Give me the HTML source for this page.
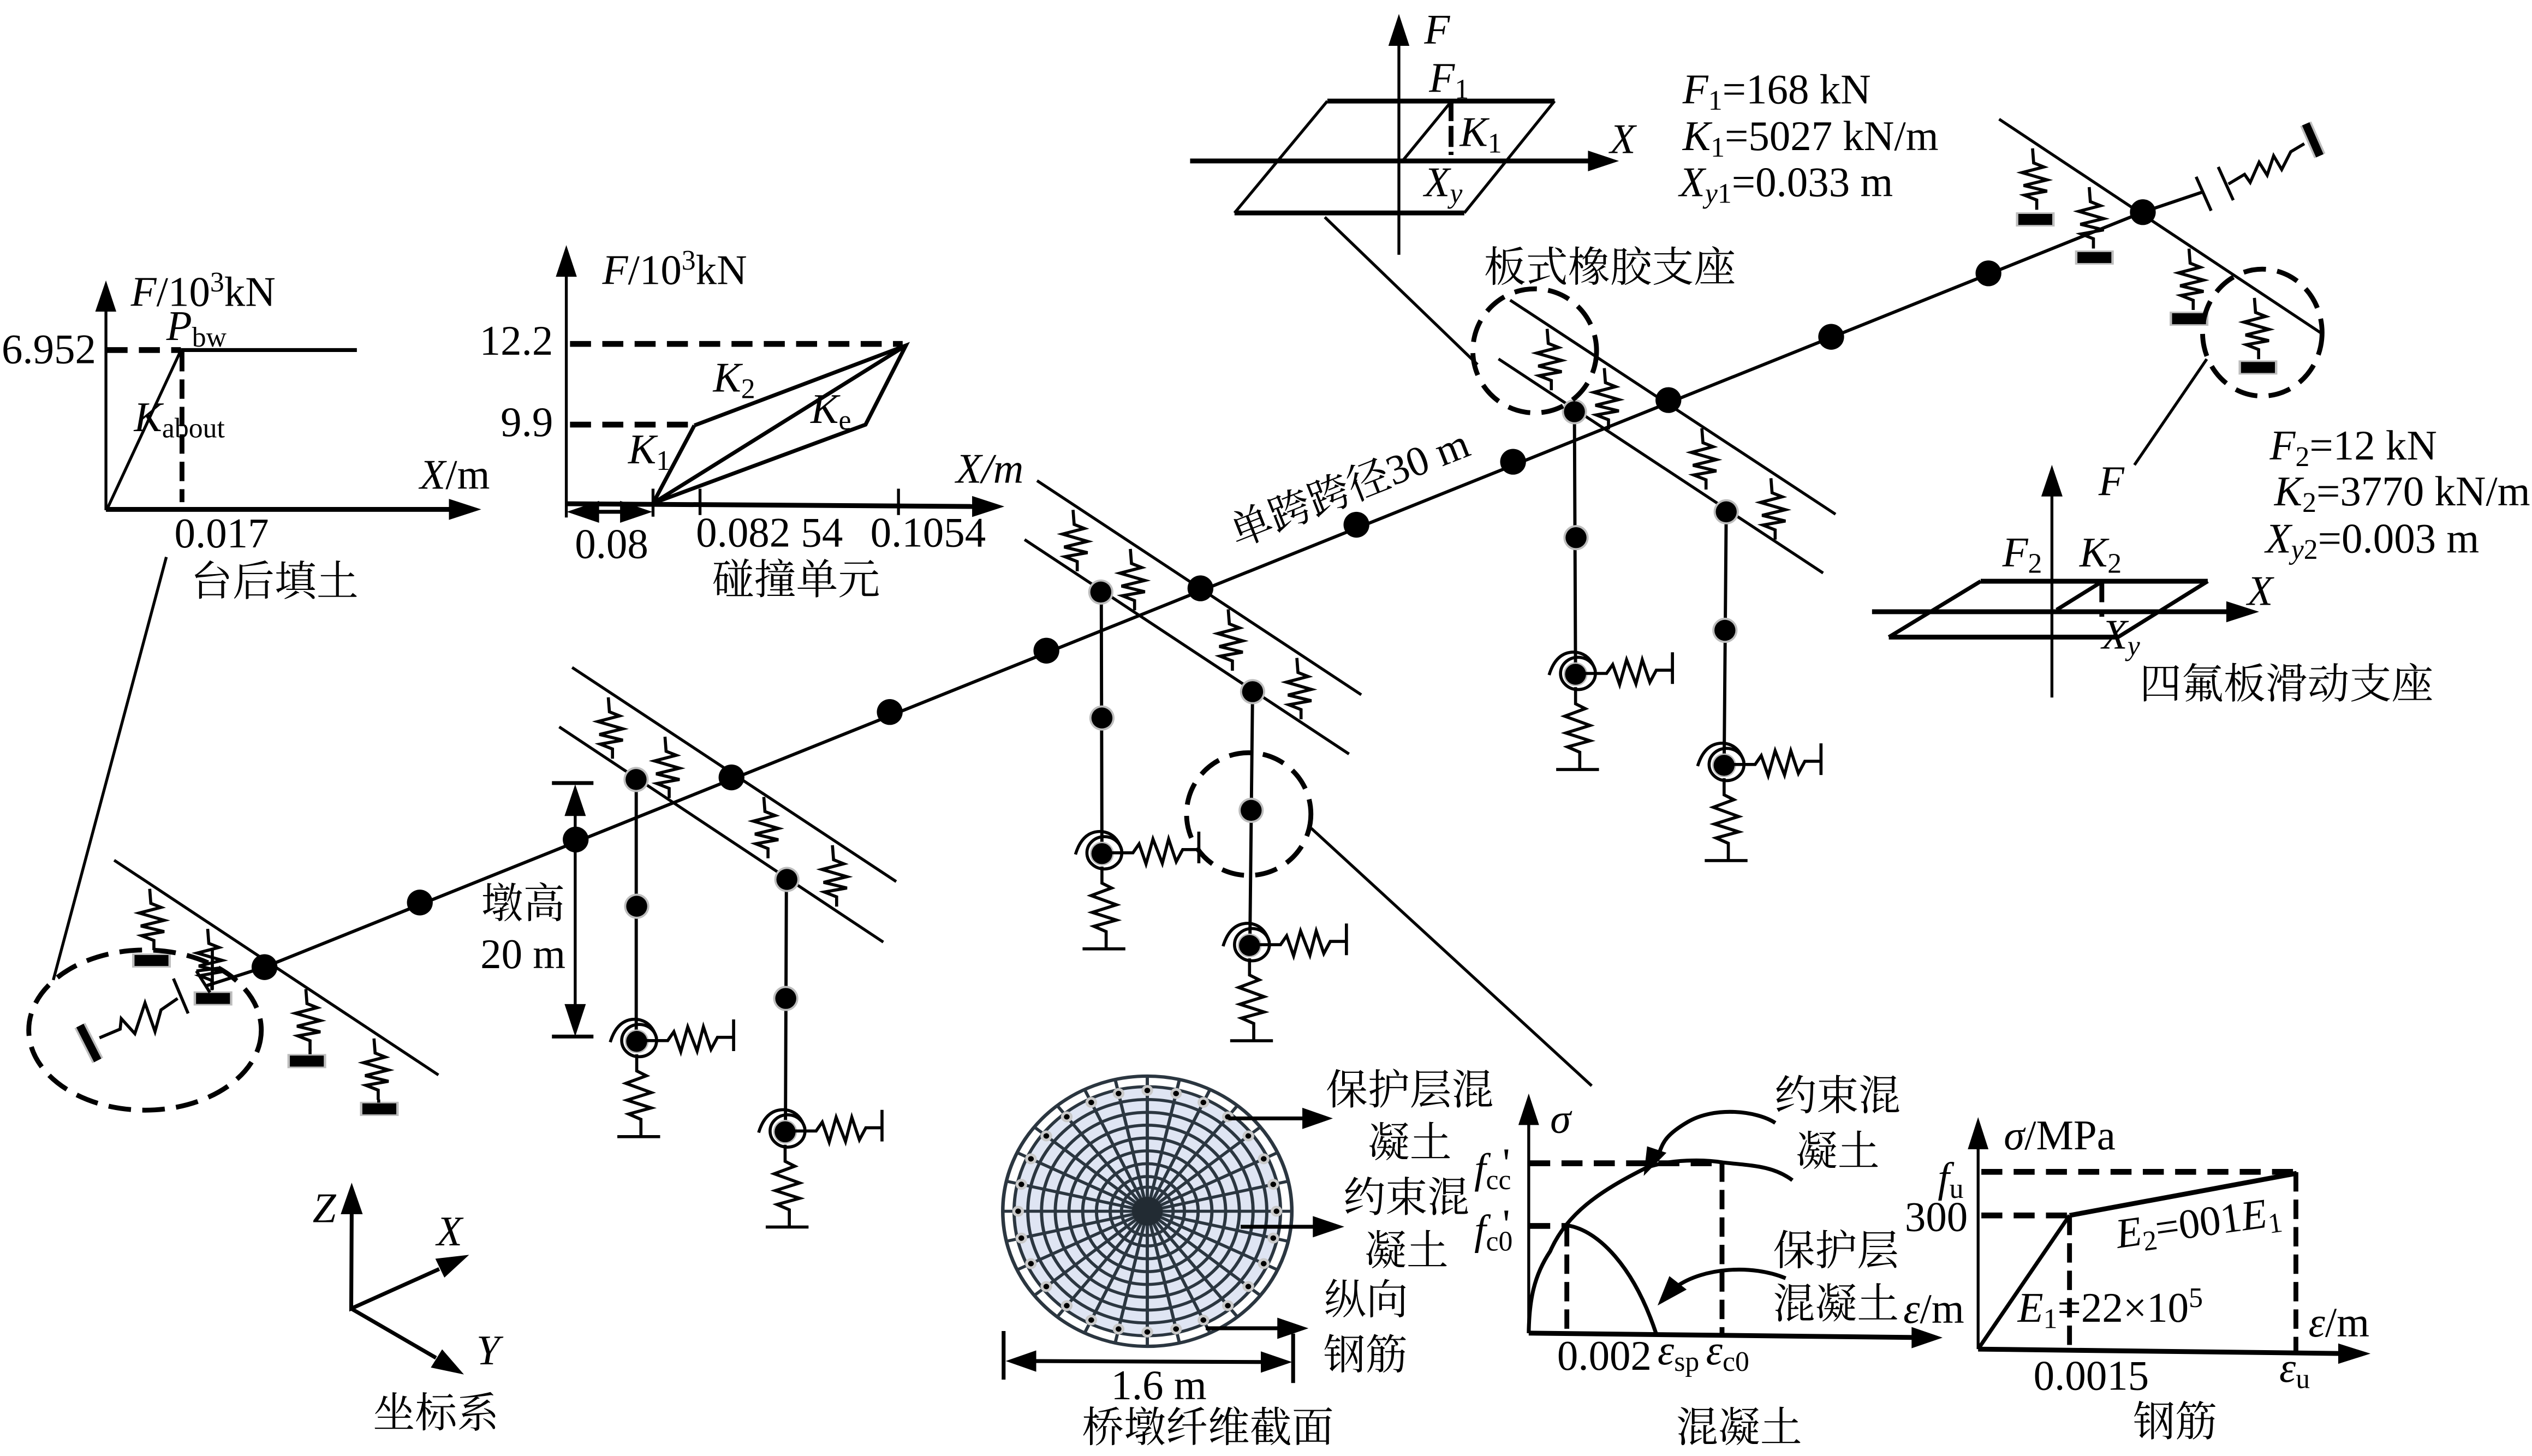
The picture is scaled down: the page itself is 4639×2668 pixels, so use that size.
<!DOCTYPE html>
<html lang="zh">
<head>
<meta charset="utf-8">
<title>Bridge model diagram</title>
<style>
html,body{margin:0;padding:0;background:#fff}
svg{display:block}
text{font-family:"Liberation Serif","Noto Serif CJK SC",serif;font-size:26px;fill:#000}
.i{font-style:italic}
.s{font-size:17.5px}
.t{fill:none;stroke:#000;stroke-width:1.8}
.m{fill:none;stroke:#000;stroke-width:2.4}
.a{fill:none;stroke:#000;stroke-width:3}
.d{fill:none;stroke:#000;stroke-width:3.6;stroke-dasharray:13 7}
.v{fill:none;stroke:#000;stroke-width:3;stroke-dasharray:12 5}
.c{fill:none;stroke:#000;stroke-width:3;stroke-dasharray:14 7}
.sp{fill:none;stroke:#000;stroke-width:1.9}
.g{fill:none;stroke:#2b3640;stroke-width:2}
</style>
</head>
<body>
<svg xmlns="http://www.w3.org/2000/svg" width="4639" height="2668" viewBox="0 0 1568 901.8">
<defs>
  <path id="S" class="sp" d="M0 0L.7 9L7 11.5L-6.5 15L9 19.5L-5.5 23L9 26.5L-5 29L2.6 32L2.6 38"/>
  <g id="P"><rect x="-12" y="-4.4" width="24" height="8.8" fill="#bdbdbd"/><rect x="-10.5" y="-3.4" width="21" height="6.8" fill="#000"/></g>
  <g id="N"><circle r="7.8" fill="#bdbdbd"/><circle r="6.5" fill="#000"/></g>
  <g id="B">
    <path class="sp" d="M-16.4 .5Q-12 -14 -.6 -13.7Q9 -13 12.3 -2"/>
    <ellipse cx="1.5" cy="-.5" rx="10.8" ry="10" class="sp"/>
    <circle r="7.4" fill="#bdbdbd"/><circle r="6.5" fill="#000"/>
    <path class="sp" d="M6 -.5L19.2 -.5L23 -6L27.3 6.4L31.6 -9L37.4 6L41.3 -9L46 5L50 -2.5L60 -2.5M60 -13.6L60 6"/>
    <path class="sp" d="M0 8L0 18.3L6 21.3L-6.7 26L9 31.7L-6 36.4L9 41.2L-5 45L2.6 48.3L2.6 59M-12 59L14.5 59"/>
  </g>
  <g id="spk">
    <line x1="0" y1="0" x2="0" y2="-89.5"/>
    <line x1="0" y1="0" x2="19.9" y2="-87.3"/>
    <line x1="0" y1="0" x2="38.8" y2="-80.6"/>
    <line x1="0" y1="0" x2="55.8" y2="-70"/>
    <line x1="0" y1="0" x2="70" y2="-55.8"/>
    <line x1="0" y1="0" x2="80.6" y2="-38.8"/>
    <line x1="0" y1="0" x2="87.3" y2="-19.9"/>
  </g>
  <g id="bars">
    <g id="bar"><circle cx="0" cy="-80" r="3.6" fill="#c9c9c9"/><circle cx="0" cy="-80" r="1.8" fill="#000"/></g>
    <use href="#bar" transform="rotate(12.857)"/>
    <use href="#bar" transform="rotate(25.714)"/>
    <use href="#bar" transform="rotate(38.571)"/>
    <use href="#bar" transform="rotate(51.429)"/>
    <use href="#bar" transform="rotate(64.286)"/>
    <use href="#bar" transform="rotate(77.143)"/>
  </g>
</defs>
<rect width="1568" height="901.8" fill="#fff"/>

<!-- Backfill plot -->
<path class="t" d="M65.6 316L65.6 190"/><polygon points="65.6,173.7 59,193 72,193"/>
<path class="a" d="M65.6 315.5L280 315.5"/><polygon points="298,315.5 278,309 278,322"/>
<path class="d" d="M66 216.8L112 216.8"/><path class="m" d="M112 216.8L221 216.8"/>
<path class="v" d="M112.7 218L112.7 311"/><path class="t" d="M66 316L112 217"/>
<text x="81" y="189.5"><tspan class="i">F</tspan>/10<tspan class="s" dy="-9">3</tspan><tspan dy="9">kN</tspan></text>
<text x="1" y="225">6.952</text>
<text x="103" y="210.6"><tspan class="i">P</tspan><tspan class="s" dy="4">bw</tspan></text>
<text x="83" y="267"><tspan class="i">K</tspan><tspan class="s" dy="4">about</tspan></text>
<text x="260" y="302.7"><tspan class="i">X</tspan>/m</text>
<text x="108" y="339">0.017</text>
<text x="118" y="369">台后填土</text>
<path class="t" d="M103 345L33 607"/>

<!-- Collision plot -->
<path class="t" d="M350.7 320.5L350.7 168"/><polygon points="350.7,151.8 344.2,171.4 357.2,171.4"/>
<path class="a" d="M350.7 312L604 313.7"/><polygon points="622,313.7 602,307.2 602,320.2"/>
<path class="d" d="M353 213L559 213"/><path class="d" d="M353 263L428 263"/>
<path class="m" d="M430 263.5L561 214L536 263L404.4 311.7L561 214M404.4 311.7L430 263.5"/>
<path class="t" d="M404.4 302.7L404.4 320M433.5 302.7L433.5 319M556.4 302.7L556.4 319"/>
<path class="m" d="M365 317L390 317"/>
<polygon points="351,317 371,310.2 371,323.8"/><polygon points="404,317 384,310.2 384,323.8"/>
<text x="373" y="176"><tspan class="i">F</tspan>/10<tspan class="s" dy="-9">3</tspan><tspan dy="9">kN</tspan></text>
<text x="297" y="219.7">12.2</text>
<text x="310" y="270">9.9</text>
<text x="441.6" y="242.6"><tspan class="i">K</tspan><tspan class="s" dy="4">2</tspan></text>
<text x="502" y="262"><tspan class="i">K</tspan><tspan class="s" dy="4">e</tspan></text>
<text x="389" y="287"><tspan class="i">K</tspan><tspan class="s" dy="4">1</tspan></text>
<text x="592" y="299" class="i">X/m</text>
<text x="356" y="345.7">0.08</text>
<text x="431" y="338.6">0.082 54</text>
<text x="539" y="338.6">0.1054</text>
<text x="441" y="368">碰撞单元</text>

<!-- Top bearing plot -->
<path class="t" d="M866.3 157.8L866.3 25"/><polygon points="866.3,8.6 859.8,28.4 872.8,28.4"/>
<path class="a" d="M737 99.7L985 99.7"/><polygon points="1002.6,99.7 983.4,93.3 983.4,106.1"/>
<path class="a" d="M822 62.6L962.7 62.6M764.5 131.9L906.8 131.9"/>
<path class="t" d="M822 62.6L764.5 131.9M962.7 62.6L906.8 131.9M868.5 99.7L898.6 63"/>
<path class="v" d="M898.6 62L898.6 96" style="stroke-dasharray:13 3"/>
<path class="t" d="M820.4 134.5L915 225.8"/>
<text x="882" y="27" class="i">F</text>
<text x="885" y="57"><tspan class="i">F</tspan><tspan class="s" dy="4">1</tspan></text>
<text x="904" y="90.5"><tspan class="i">K</tspan><tspan class="s" dy="4">1</tspan></text>
<text x="997" y="94.8" class="i">X</text>
<text x="882" y="121.5"><tspan class="i">X</tspan><tspan class="s i" dy="4">y</tspan></text>
<text x="1042" y="64"><tspan class="i">F</tspan><tspan class="s" dy="4">1</tspan><tspan dy="-4">=168 kN</tspan></text>
<text x="1042" y="93"><tspan class="i">K</tspan><tspan class="s" dy="4">1</tspan><tspan dy="-4">=5027 kN/m</tspan></text>
<text x="1040" y="121.5"><tspan class="i">X</tspan><tspan class="s i" dy="4">y</tspan><tspan class="s" >1</tspan><tspan dy="-4">=0.033 m</tspan></text>
<text x="919" y="174.5">板式橡胶支座</text>

<!-- Bottom bearing plot -->
<path class="t" d="M1270.7 432L1270.7 305"/><polygon points="1270.7,287.9 1264.1,307.5 1277.3,307.5"/>
<path class="a" d="M1159.3 378.9L1380 378.9"/><polygon points="1399,378.9 1378.7,372.4 1378.7,385.4"/>
<path class="a" d="M1226.6 360L1367.2 360M1169.7 394.6L1311.7 394.6"/>
<path class="m" d="M1226.6 360L1169.7 394.6M1367.2 360L1311.7 394.6M1273.6 377.7L1301.6 360.3"/>
<path class="v" d="M1301.6 359L1301.6 382" style="stroke-dasharray:14 5"/>
<path class="t" d="M1366.6 222.4L1321.8 288"/>
<text x="1299.6" y="306.8" class="i">F</text>
<text x="1240" y="350.8"><tspan class="i">F</tspan><tspan class="s" dy="4">2</tspan></text>
<text x="1287.8" y="350.8"><tspan class="i">K</tspan><tspan class="s" dy="4">2</tspan></text>
<text x="1391.7" y="374.7" class="i">X</text>
<text x="1301.6" y="401.8"><tspan class="i">X</tspan><tspan class="s i" dy="4">y</tspan></text>
<text x="1405.6" y="284.6"><tspan class="i">F</tspan><tspan class="s" dy="4">2</tspan><tspan dy="-4">=12 kN</tspan></text>
<text x="1408.4" y="313"><tspan class="i">K</tspan><tspan class="s" dy="4">2</tspan><tspan dy="-4">=3770 kN/m</tspan></text>
<text x="1403" y="342.2"><tspan class="i">X</tspan><tspan class="s i" dy="4">y</tspan><tspan class="s">2</tspan><tspan dy="-4">=0.003 m</tspan></text>
<text x="1325" y="432.5">四氟板滑动支座</text>

<!-- Deck and transverse beams -->
<path class="m" d="M128.2 610.4L163.8 599L1327 131.4L1363.8 119" style="stroke-width:2"/>
<path class="t" d="M70.7 532.8L271.5 665.8"/>
<path class="t" d="M354.3 413.4L555 546M346.3 450.2L547 583.5"/>
<path class="t" d="M642.2 297.7L843 430.3M634.5 334.2L835.4 467"/>
<path class="t" d="M935.2 185.9L1136.7 318.5M928 222.3L1129 354.9"/>
<path class="t" d="M1238 73.8L1437.7 206.5"/>
<g fill="#000">
<circle cx="163.8" cy="599" r="8"/><circle cx="260" cy="559" r="8"/><circle cx="356.5" cy="520" r="8"/><circle cx="453" cy="481.5" r="8"/><circle cx="551" cy="441" r="8"/><circle cx="648" cy="403" r="8"/><circle cx="743.4" cy="364.4" r="8"/><circle cx="840" cy="325" r="8"/><circle cx="937" cy="286" r="8"/><circle cx="1033.2" cy="247.8" r="8"/><circle cx="1134" cy="208.6" r="8"/><circle cx="1231.4" cy="169.3" r="8"/><circle cx="1327" cy="131.4" r="8"/>
</g>

<!-- Columns -->
<path class="t" d="M394 483L394 644M487 545L486.4 701M682 367L682.4 529M775.7 428L774 586M975 255L975.7 418M1069 317L1067.7 474" style="stroke-width:2"/>
<use href="#N" x="393.9" y="482.8"/><use href="#N" x="394.3" y="561.3"/><use href="#B" x="394.3" y="645"/>
<use href="#N" x="487.3" y="544.7"/><use href="#N" x="486.6" y="618.4"/><use href="#B" x="486.2" y="701"/>
<use href="#N" x="681.7" y="366.7"/><use href="#N" x="682.4" y="444.7"/><use href="#B" x="682.4" y="528.7"/>
<use href="#N" x="775.7" y="428.4"/><use href="#N" x="774.8" y="501.9"/><use href="#B" x="773.8" y="585.6"/>
<use href="#N" x="975" y="255"/><use href="#N" x="976" y="333"/><use href="#B" x="975.7" y="417.6"/>
<use href="#N" x="1069" y="317"/><use href="#N" x="1068.2" y="390.4"/><use href="#B" x="1067.7" y="474"/>

<!-- Deck springs -->
<use href="#S" x="376.7" y="431.9"/><use href="#S" x="411.8" y="456.3"/><use href="#S" x="473" y="493.6"/><use href="#S" x="515.5" y="523.5"/>
<use href="#S" x="664.5" y="315.8"/><use href="#S" x="700" y="340"/><use href="#S" x="760.6" y="377.4"/><use href="#S" x="803.1" y="407.5"/>
<use href="#S" x="958.1" y="203.7"/><use href="#S" x="993.5" y="228"/><use href="#S" x="1053.9" y="265.2"/><use href="#S" x="1096.7" y="296.2"/>

<!-- Left abutment -->
<use href="#S" x="92.7" y="550.5"/><use href="#P" x="93.8" y="594.9"/>
<use href="#S" x="128.6" y="575.3"/><use href="#P" x="131.9" y="618.4"/>
<use href="#S" x="189.4" y="612.6"/><use href="#P" x="190" y="657.2"/>
<use href="#S" x="231.6" y="643.2"/><use href="#P" x="234.9" y="686.8"/>
<path d="M131.5 588.5L131.5 613" class="sp"/><path d="M192 650L192 653M234.5 681L234.5 683" class="sp"/>
<ellipse cx="89.8" cy="638" rx="72" ry="49.6" class="c"/>
<line x1="49.5" y1="635.2" x2="60.5" y2="656.8" stroke="#bdbdbd" stroke-width="7.5"/>
<line x1="49.5" y1="635.2" x2="60.5" y2="656.8" stroke="#000" stroke-width="5"/>
<path class="sp" d="M61.6 642.8L74.4 637.4L75.1 630.9L83.5 640.2L89.8 621.2L96 638.9L99.7 625.5L110 618.4M107.4 606.1L116.5 627.7M121.6 601.4L130 614.7M121.6 601.4L135.6 599.6"/>

<!-- Right abutment -->
<use href="#S" x="1258.7" y="91.9"/><use href="#P" x="1260.4" y="135.9"/>
<use href="#S" x="1293.8" y="115.9"/><use href="#P" x="1297" y="159.5"/>
<use href="#S" x="1355.6" y="154"/><use href="#P" x="1355.6" y="197.4"/>
<use href="#S" x="1396.1" y="184.5"/><use href="#P" x="1398.3" y="227.6"/>
<path class="sp" d="M1360 109.5L1369.3 130.5M1373.7 103.4L1383 124M1380 114L1390 108L1393.5 113L1399 100.5L1404 108.5L1408 96.5L1413 105L1418.6 94L1427 89"/>
<line x1="1427.9" y1="76.7" x2="1436.6" y2="96.5" stroke="#bdbdbd" stroke-width="7.5"/>
<line x1="1427.9" y1="76.7" x2="1436.6" y2="96.5" stroke="#000" stroke-width="5"/>

<!-- Dashed circles -->
<ellipse cx="773.3" cy="504.2" rx="38.5" ry="38" class="c"/>
<ellipse cx="950.4" cy="217.3" rx="38.3" ry="38.4" class="c"/>
<ellipse cx="1401" cy="206" rx="37" ry="39.3" class="c"/>
<path class="t" d="M812 513L985.7 672.5"/>

<!-- Pier height dimension -->
<path class="m" d="M341.8 485L367.5 485M341.8 642L367.5 642"/>
<path class="t" d="M356.2 500L356.2 628"/>
<polygon points="356.2,485.8 349.6,505.4 362.8,505.4"/>
<polygon points="356.2,642 349.6,621.9 362.8,621.9"/>
<text x="298" y="568.5">墩高</text>
<text x="297.5" y="599.6">20 m</text>

<!-- Span label -->
<text transform="translate(766 339) rotate(-21.5)">单跨跨径30 m</text>

<!-- Coordinate system -->
<path class="m" d="M217.8 750L217.5 810.5L272 786M217.5 810.5L270 841"/>
<polygon points="217.8,732.5 211,752 224.6,752"/>
<polygon points="290.5,777.2 269.6,779.6 275.2,791.3"/>
<polygon points="287.3,851.3 273.8,835.7 266.8,847"/>
<text x="193.6" y="757" class="i">Z</text>
<text x="270.4" y="771.4" class="i">X</text>
<text x="295" y="845" class="i">Y</text>
<text x="231" y="884">坐标系</text>

<!-- Fibre section -->
<g transform="translate(710.5 750.2) scale(1 .935)">
  <circle r="89.5" fill="#fff" stroke="#2b3640" stroke-width="2.2"/>
  <circle r="82.5" fill="#dfe5f3" stroke="#2b3640" stroke-width="2"/>
  <g class="g">
    <use href="#spk"/><use href="#spk" transform="rotate(90)"/><use href="#spk" transform="rotate(180)"/><use href="#spk" transform="rotate(270)"/>
    <circle r="74"/><circle r="65.5"/><circle r="57"/><circle r="48.5"/><circle r="40"/><circle r="31.5"/><circle r="23"/><circle r="16"/>
  </g>
  <circle r="9.5" fill="#222b33"/>
  <use href="#bars"/><use href="#bars" transform="rotate(90)"/><use href="#bars" transform="rotate(180)"/><use href="#bars" transform="rotate(270)"/>
</g>
<path class="m" d="M760.7 692.7L808 692.7M768.3 759.8L815 759.8M746.7 822.7L793 822.7"/>
<polygon points="825.4,692.7 806.5,686.1 806.5,699.3"/>
<polygon points="832.5,759.8 813,753.2 813,766.4"/>
<polygon points="810.3,822.7 791,816.1 791,829.3"/>
<path class="m" d="M621.5 824.4L621.5 854.5M800.8 826L800.8 856.6M640 843L782 843.6"/>
<polygon points="622.8,843 641.7,836.4 641.7,849.6"/>
<polygon points="800.2,843.6 780.8,837 780.8,850.2"/>
<text x="688" y="866.6">1.6 m</text>
<text x="670" y="893">桥墩纤维截面</text>
<text x="821" y="684">保护层混</text>
<text x="847" y="716.5">凝土</text>
<text x="832" y="750.5">约束混</text>
<text x="845" y="783.5">凝土</text>
<text x="820" y="814">纵向</text>
<text x="819.6" y="848">钢筋</text>

<!-- Concrete plot -->
<path class="t" d="M946.7 825.7L946.7 695"/><polygon points="946.7,677.3 940.3,696.8 953.1,696.8"/>
<path class="a" d="M946.7 825.7L1186 828.4"/><polygon points="1203,828.5 1183.8,821.9 1183.8,835.1"/>
<path class="d" d="M947 720.5L1065 720.5"/><path class="v" d="M1066.4 720L1066.4 826"/>
<path class="d" d="M947 759.3L970.7 759.3"/><path class="v" d="M970.3 760L970.3 826"/>
<path class="m" d="M946.7 825.7C947 805 950 790 960 775C970 752 990 738 1020 723C1035 718 1055 718 1067 720C1085 722 1098 722 1110 731"/>
<path class="m" d="M970.7 759C990 762 1012 785 1025.6 826"/>
<path class="m" d="M1099.4 695.5C1088 688 1062 685 1045 695S1030 710 1026 717"/>
<polygon points="1017.9,728.3 1020,710 1032,714"/>
<path class="m" d="M1105.8 791.7C1085 783 1055 785 1038 797"/>
<polygon points="1026.5,808.6 1033.8,790.4 1044.5,798.7"/>
<text x="960" y="701.5" class="i">σ</text>
<text x="913" y="732.5"><tspan class="i">f</tspan><tspan class="s" dy="4">cc</tspan></text>
<text x="930.5" y="729">'</text>
<text x="913" y="770.5"><tspan class="i">f</tspan><tspan class="s" dy="4">c0</tspan></text>
<text x="930.5" y="767">'</text>
<text x="964.3" y="848.4">0.002</text>
<text x="1026.5" y="845"><tspan class="i">ε</tspan><tspan class="s" dy="4">sp</tspan></text>
<text x="1056.5" y="845"><tspan class="i">ε</tspan><tspan class="s" dy="4">c0</tspan></text>
<text x="1099" y="687.5">约束混</text>
<text x="1112" y="722">凝土</text>
<text x="1098" y="783.5">保护层</text>
<text x="1098" y="816.5">混凝土</text>
<text x="1178.7" y="819.4"><tspan class="i">ε</tspan>/m</text>
<text x="1038" y="893">混凝土</text>

<!-- Steel plot -->
<path class="t" d="M1225 835.6L1225 710"/><polygon points="1225,691.9 1218.6,711.8 1231.4,711.8"/>
<path class="a" d="M1225 835.6L1450 838.3"/><polygon points="1468,838.4 1448,832.1 1448,844.7"/>
<path class="d" d="M1227 725.8L1423 725.8"/><path class="v" d="M1421.8 726L1421.8 836.8"/>
<path class="d" d="M1227 752.8L1281.6 752.8"/><path class="v" d="M1281.6 753L1281.6 836.8"/>
<path class="m" d="M1225 835.6L1281.6 752.8"/><path class="a" d="M1281.6 752.8L1422.3 726.7"/>
<text x="1240.9" y="711.8"><tspan class="i">σ</tspan>/MPa</text>
<text x="1200" y="738"><tspan class="i">f</tspan><tspan class="s" dy="4">u</tspan></text>
<text x="1179.6" y="762.3">300</text>
<text transform="translate(1311.6 773) rotate(-8)"><tspan class="i">E</tspan><tspan class="s" dy="4">2</tspan><tspan dy="-4">=001</tspan><tspan class="i">E</tspan><tspan class="s" dy="4">1</tspan></text>
<text x="1249.5" y="818.6"><tspan class="i">E</tspan><tspan class="s" dy="4">1</tspan><tspan dy="-4">=22×10</tspan><tspan class="s" dy="-9">5</tspan></text>
<text x="1429.6" y="827.7"><tspan class="i">ε</tspan>/m</text>
<text x="1259.3" y="860.8">0.0015</text>
<text x="1411.5" y="855.8"><tspan class="i">ε</tspan><tspan class="s" dy="4">u</tspan></text>
<text x="1321" y="889.5">钢筋</text>
</svg>
</body>
</html>
